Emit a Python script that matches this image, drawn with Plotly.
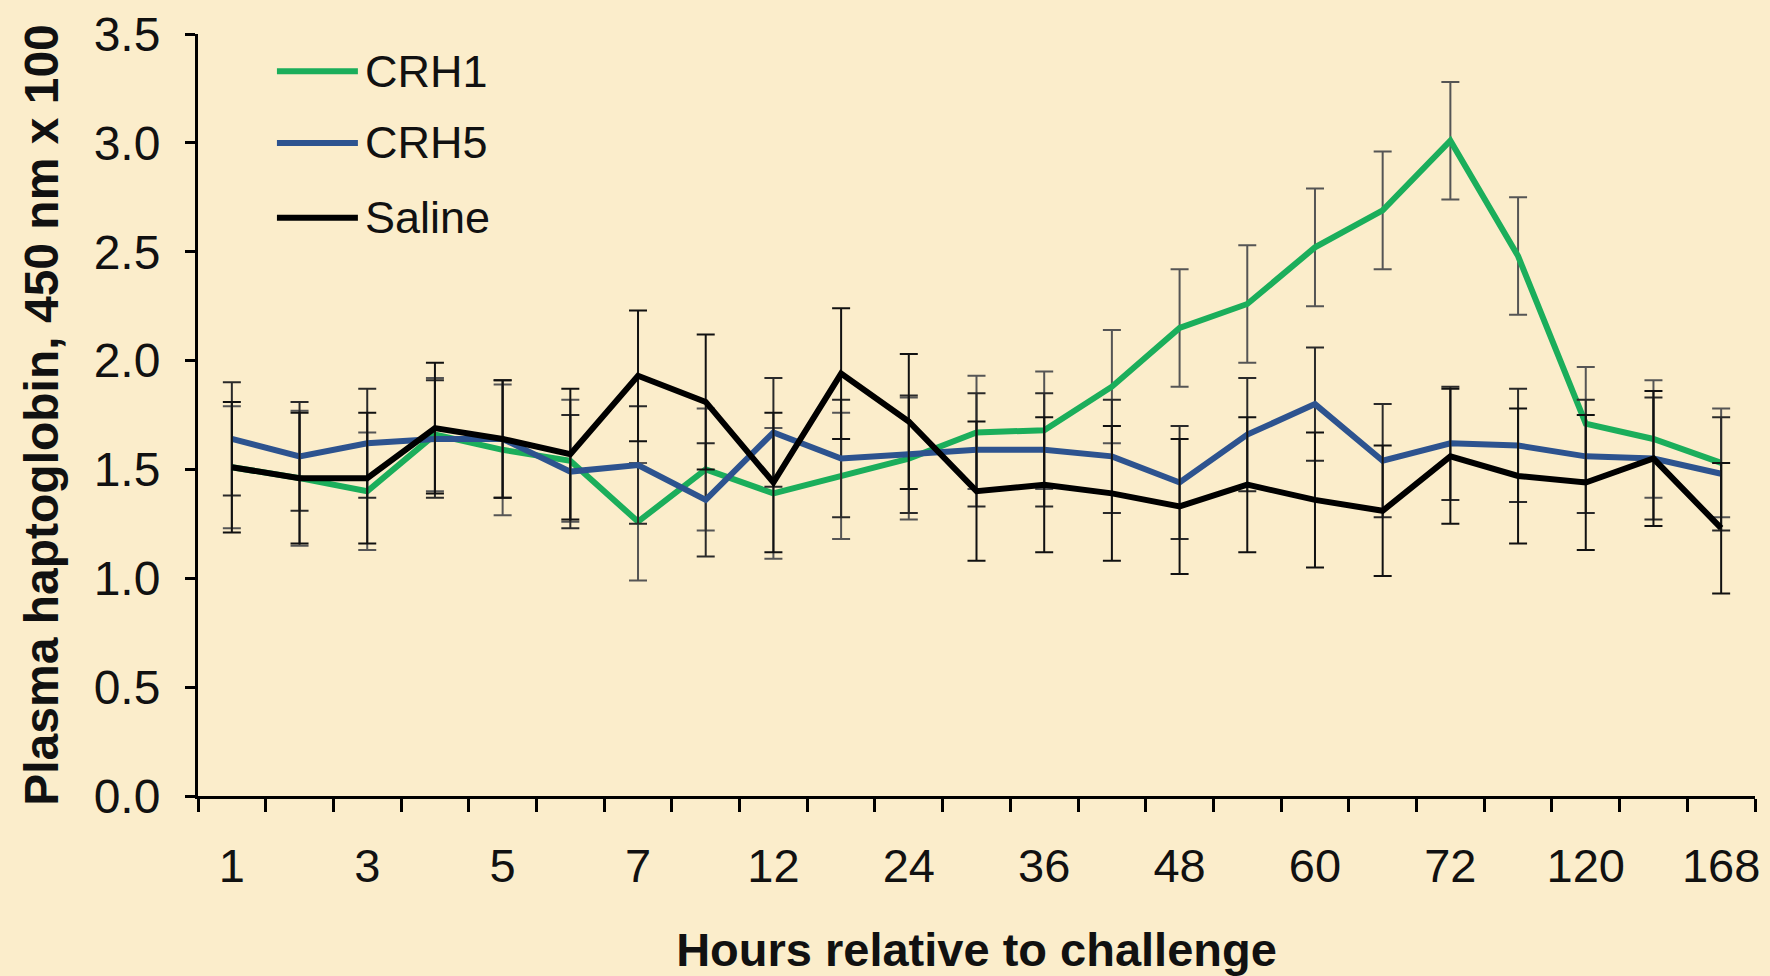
import plotly.graph_objects as go

hours = ["1", "2", "3", "4", "5", "6", "7", "9", "12", "18", "24", "30",
         "36", "42", "48", "54", "60", "66", "72", "96", "120", "144", "168"]
shown_labels = ["1", "3", "5", "7", "12", "24", "36", "48", "60", "72", "120", "168"]

series_names = ["CRH1", "CRH5", "Saline"]

crh1 = [1.51, 1.46, 1.40, 1.66, 1.59, 1.54, 1.26, 1.50, 1.39, 1.47, 1.55, 1.67,
        1.68, 1.88, 2.15, 2.26, 2.52, 2.69, 3.01, 2.48, 1.71, 1.64, 1.53]
crh1_err = [0.28, 0.31, 0.27, 0.26, 0.30, 0.28, 0.27, 0.28, 0.30, 0.29, 0.28, 0.26,
            0.27, 0.26, 0.27, 0.27, 0.27, 0.27, 0.27, 0.27, 0.26, 0.27, 0.25]

crh5 = [1.64, 1.56, 1.62, 1.64, 1.64, 1.49, 1.52, 1.36, 1.67, 1.55, 1.57, 1.59,
        1.59, 1.56, 1.44, 1.66, 1.80, 1.54, 1.62, 1.61, 1.56, 1.55, 1.48]
crh5_err = [0.26, 0.25, 0.25, 0.27, 0.27, 0.26, 0.27, 0.26, 0.25, 0.27, 0.27, 0.26,
            0.26, 0.26, 0.26, 0.26, 0.26, 0.26, 0.26, 0.26, 0.26, 0.28, 0.26]

saline = [1.51, 1.46, 1.46, 1.69, 1.64, 1.57, 1.93, 1.81, 1.44, 1.94, 1.72, 1.40,
          1.43, 1.39, 1.33, 1.43, 1.36, 1.31, 1.56, 1.47, 1.44, 1.55, 1.23]
saline_err = [0.30, 0.30, 0.30, 0.30, 0.27, 0.30, 0.30, 0.31, 0.32, 0.30, 0.31, 0.32,
              0.31, 0.31, 0.31, 0.31, 0.31, 0.30, 0.31, 0.31, 0.31, 0.31, 0.30]

values = [crh1, crh5, saline]
errors = [crh1_err, crh5_err, saline_err]
colors = ["#1BAE5B", "#2D538F", "#000000"]
err_colors = ["#555555", "#2a2a2a", "#111111"]

BG = "#FBEDCB"
FONT = "Liberation Sans, Arial, sans-serif"

fig = go.Figure()
for name, v, e, c, ec in zip(series_names, values, errors, colors, err_colors):
    fig.add_trace(go.Scatter(
        x=hours, y=v, name=name, mode="lines",
        line=dict(color=c, width=6),
        error_y=dict(type="data", array=e, visible=True, color=ec,
                     thickness=2, width=9),
        showlegend=False,
    ))

# manual legend (long line samples like the reference)
leg_y = [0.951, 0.857, 0.759]
for name, c, yy in zip(series_names, colors, leg_y):
    fig.add_shape(type="line", xref="paper", yref="paper",
                  x0=0.0507, x1=0.1027, y0=yy, y1=yy,
                  line=dict(color=c, width=6))
    fig.add_annotation(xref="paper", yref="paper", x=0.1060, y=yy,
                       text=name, showarrow=False, xanchor="left",
                       yanchor="middle",
                       font=dict(family=FONT, size=45, color="#111111"))

tick_text = [h if h in shown_labels else "" for h in hours]

fig.update_layout(
    width=1770, height=976,
    paper_bgcolor=BG, plot_bgcolor=BG,
    margin=dict(l=198, r=15, t=34, b=180),
    font=dict(family=FONT, color="#111111"),
    xaxis=dict(
        type="category", categoryorder="array", categoryarray=hours,
        range=[-0.5, len(hours) - 0.5],
        tickmode="array", tickvals=hours, ticktext=tick_text,
        tickangle=0, automargin=False,
        tickson="boundaries", ticks="outside", ticklen=13, tickwidth=3,
        tickcolor="#000000",
        showline=True, linecolor="#000000", linewidth=3,
        showgrid=False, zeroline=False,
        tickfont=dict(size=47, family=FONT, color="#111111"),
        ticklabelstandoff=27,
        title=dict(text="<b>Hours relative to challenge</b>",
                   font=dict(size=47, family=FONT, color="#111111"),
                   standoff=42),
    ),
    yaxis=dict(
        range=[0, 3.5], tickmode="linear", tick0=0, dtick=0.5,
        tickformat=".1f", automargin=False,
        ticks="outside", ticklen=10, tickwidth=3, tickcolor="#000000",
        showline=True, linecolor="#000000", linewidth=3,
        showgrid=False, zeroline=False,
        tickfont=dict(size=48, family=FONT, color="#111111"),
        ticklabelstandoff=15,
        title=dict(text="<b>Plasma haptoglobin, 450 nm x 100</b>",
                   font=dict(size=48, family=FONT, color="#111111"),
                   standoff=20),
    ),
)

fig.write_html(
    "out.html",
    config={"displayModeBar": False},
    post_script="document.body.style.margin='0';"
                "document.body.style.background='" + BG + "';",
)
